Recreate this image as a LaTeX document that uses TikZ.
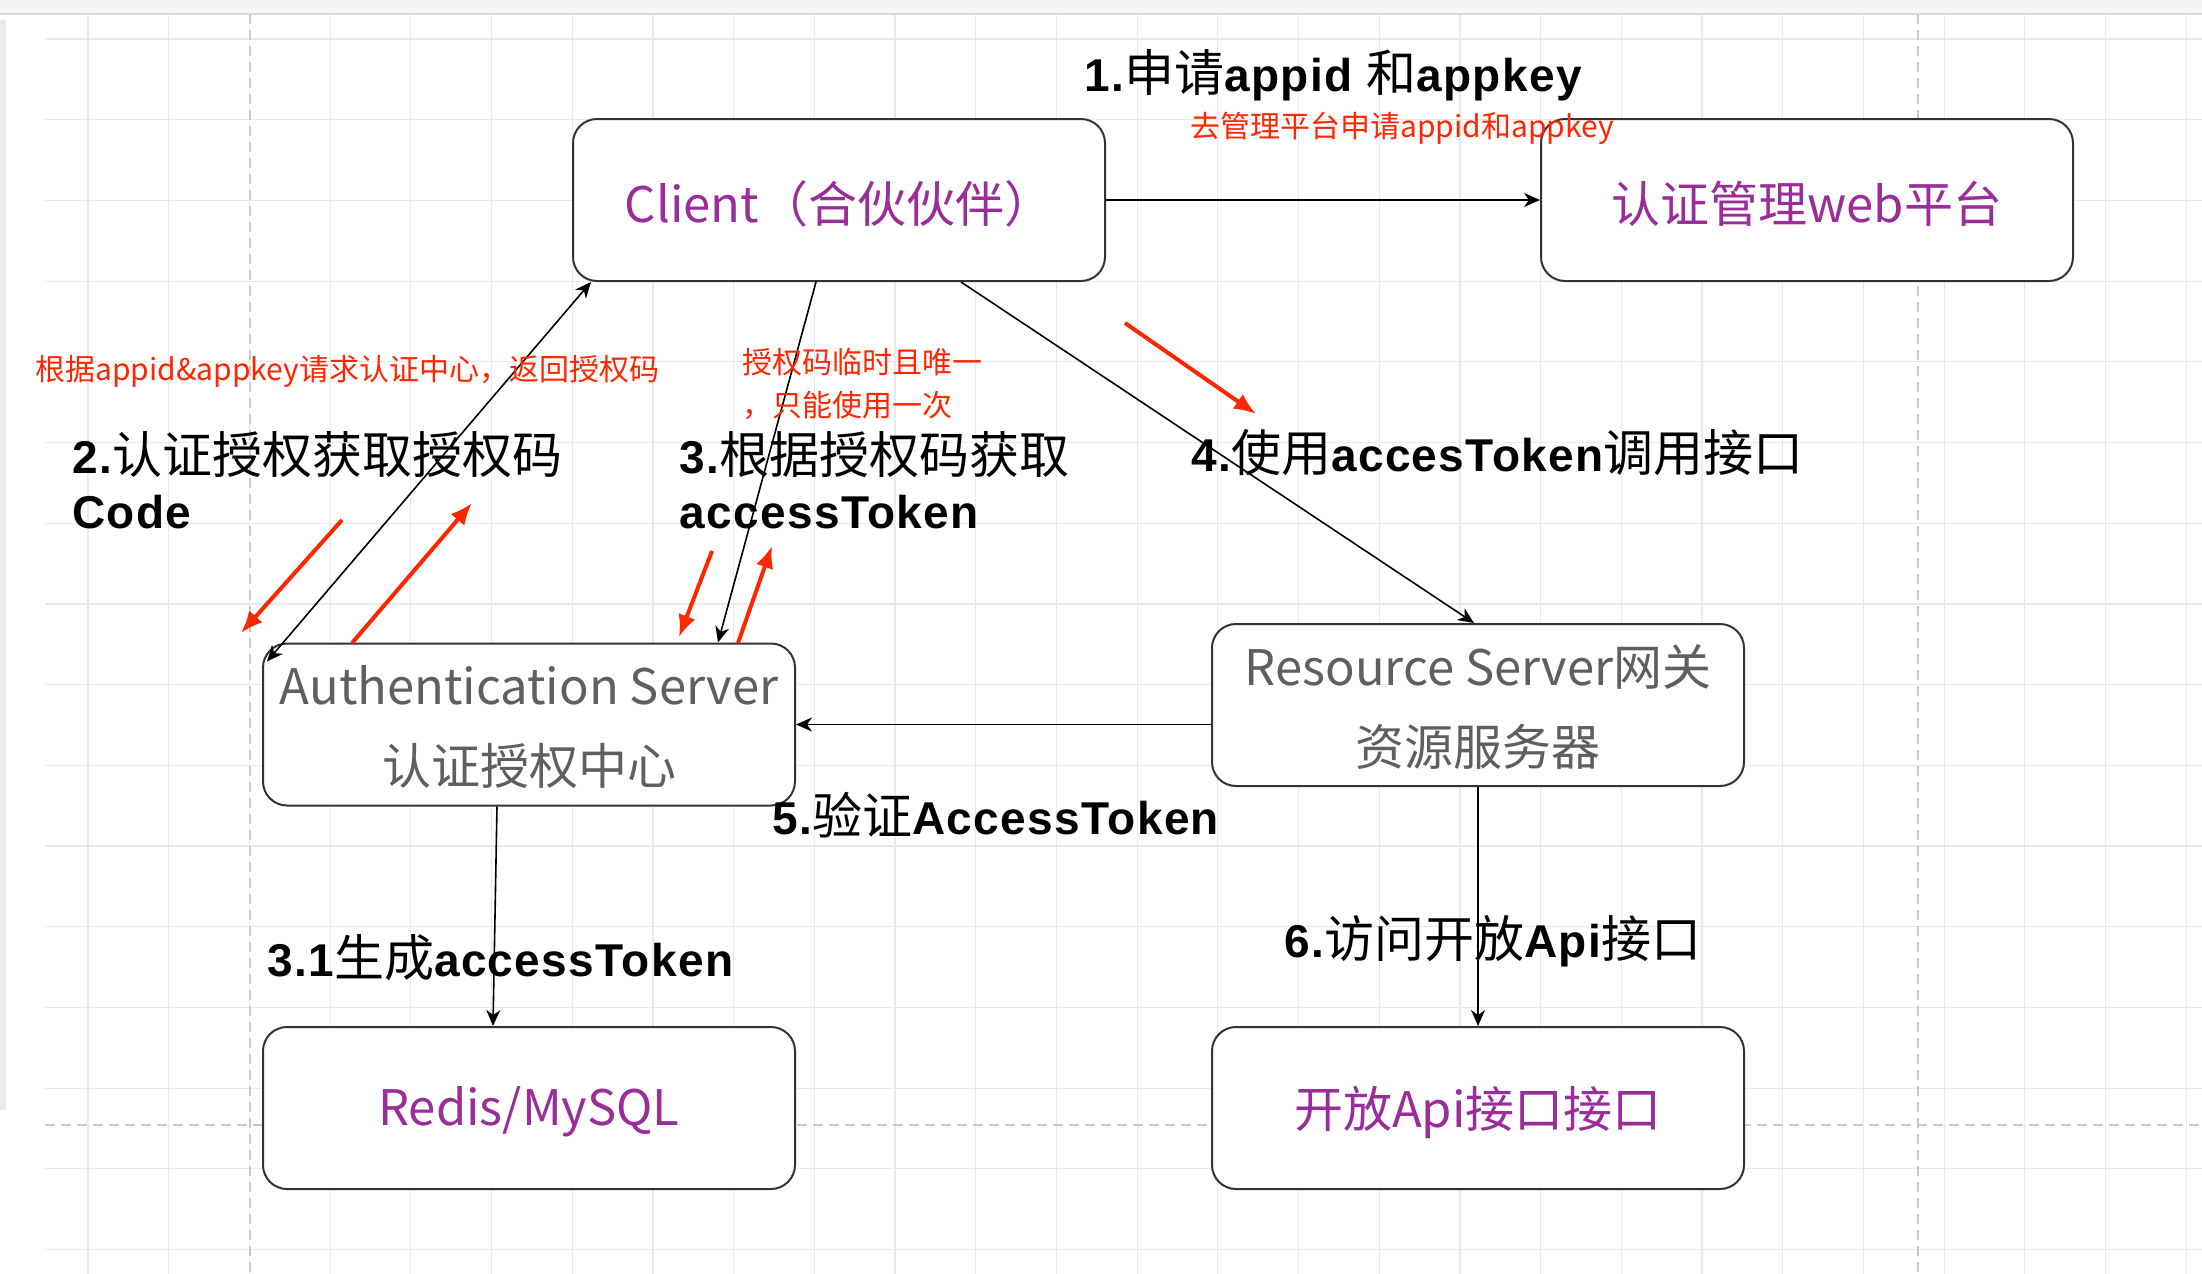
\documentclass[tikz,border=0pt]{standalone}
\usepackage{fontspec}
\setmainfont{Liberation Sans}
\newfontfamily\zhfont{Noto Sans CJK SC}
\newfontfamily\lblfont{Liberation Sans}[LetterSpace=3]
\usetikzlibrary{arrows.meta,calc}
\definecolor{boxpurple}{RGB}{155,45,155}
\definecolor{boxgray}{RGB}{95,95,95}
\definecolor{notered}{RGB}{255,38,0}
\definecolor{gridc}{RGB}{234,234,234}
\definecolor{pagec}{RGB}{200,200,200}
\newcommand{\zh}[1]{{\zhfont\fontsize{25}{28}\selectfont\mdseries #1}}
\newcommand{\lowered}[1]{\raisebox{-2pt}[\height][\depth]{#1}}
\newcommand{\twolines}[2]{\lowered{\begin{tabular}{@{}c@{}}#1\\#2\end{tabular}}}
\begin{document}
\begin{tikzpicture}[x=0.5pt,y=-0.5pt,
  box/.style={draw=black!80, line width=1pt, rounded corners=12pt, fill=white,
    minimum width=266pt, minimum height=81pt, inner sep=0pt,
    font=\zhfont\fontsize{24.5}{40}\selectfont},
  lbl/.style={anchor=base west, inner sep=0pt, font=\lblfont\fontsize{23}{27.5}\selectfont\bfseries},
  note/.style={anchor=base west, inner sep=0pt, text=notered, font=\zhfont\fontsize{15}{18}\selectfont},
  conn/.style={draw=black, line width=0.8pt, -{Stealth[length=8pt,width=7pt,inset=2.5pt]}},
  biconn/.style={draw=black, line width=0.8pt, {Stealth[length=8pt,width=7pt,inset=2.5pt]}-{Stealth[length=8pt,width=7pt,inset=2.5pt]}},
  redarr/.style={draw=notered, line width=2pt, -{Latex[length=11pt,width=9pt]}}
]
\useasboundingbox (0,0) rectangle (2202,1274);
\fill[white] (0,0) rectangle (2202,1274);
% background grid
\foreach \i in {0,...,26} \draw[gridc, line width=0.6pt] ({88+80.7*\i},14) -- ({88+80.7*\i},1274);
\foreach \j in {0,...,15} \draw[gridc, line width=0.6pt] (45,{39+80.7*\j}) -- (2202,{39+80.7*\j});
\draw[pagec, dash pattern=on 5pt off 3pt, line width=0.6pt] (250,14) -- (250,1274);
\draw[pagec, dash pattern=on 5pt off 3pt, line width=0.6pt] (1918,14) -- (1918,1274);
\draw[pagec, dash pattern=on 5pt off 3pt, line width=0.6pt] (45,1125) -- (2202,1125);
\fill[black!4] (0,0) rectangle (2202,14);
\draw[black!15, line width=0.6pt] (0,14) -- (2202,14);
\fill[black!8] (0,20) rectangle (6,1110);

% boxes
\node[box, text=boxpurple] (client) at (839,200) {\lowered{Client（合伙伙伴）}};
\node[box, text=boxpurple] (web) at (1807,200) {\lowered{认证管理web平台}};
\node[box, text=boxgray] (auth) at (529,724.5) {\twolines{Authentication Server}{认证授权中心}};
\node[box, text=boxgray] (res) at (1478,705) {\twolines{Resource Server网关}{资源服务器}};
\node[box, text=boxpurple] (redis) at (529,1108) {\lowered{Redis/MySQL}};
\node[box, text=boxpurple] (api) at (1478,1108) {\lowered{开放Api接口接口}};

% connectors
\draw[conn] (client) -- (web);
\draw[biconn] ($(auth.north west)+(5,19)$) -- ($(client.south west)+(19,0)$);
\draw[conn] ($(client.south)+(-23,0)$) -- ($(auth.north)+(189,0)$);
\draw[conn] ($(client.south)+(122,0)$) -- ($(res.north)+(-4,0)$);
\draw[conn] (auth.east -| res.west) -- (auth.east);
\draw[conn] ($(auth.south)+(-32,0)$) -- ($(redis.north)+(-36,0)$);
\draw[conn] (res.south) -- (api.north);

% black labels
\node[lbl] (l1) at (1084,91) {1.\zh{申请}appid \zh{和}appkey};
\node[lbl] (l2a) at (72,473) {2.\zh{认证授权获取授权码}};
\node[lbl] (l2b) at (72,528) {Code};
\node[lbl] (l3a) at (679,473) {3.\zh{根据授权码获取}};
\node[lbl] (l3b) at (679,528) {accessToken};
\node[lbl] (l4) at (1191,471) {4.\zh{使用}accesToken\zh{调用接口}};
\node[lbl] (l5) at (772,834) {5.\zh{验证}AccessToken};
\node[lbl] (l31) at (267,976) {3.1\zh{生成}accessToken};
\node[lbl] (l6) at (1284,957) {6.\zh{访问开放}Api\zh{接口}};

% red notes
\node[note] (n1) at (1190,137) {去管理平台申请appid和appkey};
\node[note] (n2) at (35,380) {根据appid\&appkey请求认证中心，返回授权码};
\node[note] (n3a) at (742,373) {授权码临时且唯一};
\node[note] (n3b) at (742,416) {，只能使用一次};

% red annotation arrows
\coordinate (r1s) at (1125,323); \coordinate (r1e) at (1256,414);
\coordinate (r2s) at (342,520); \coordinate (r2e) at (241,633);
\coordinate (r3s) at (352,643); \coordinate (r3e) at (472,503);
\coordinate (r4s) at (712,551); \coordinate (r4e) at (679,637);
\coordinate (r5s) at (738,643); \coordinate (r5e) at (772,546);
\draw[redarr] (r1s) -- (r1e);
\draw[redarr] (r2s) -- (r2e);
\draw[redarr] (r3s) -- (r3e);
\draw[redarr] (r4s) -- (r4e);
\draw[redarr] (r5s) -- (r5e);
\end{tikzpicture}
\end{document}
